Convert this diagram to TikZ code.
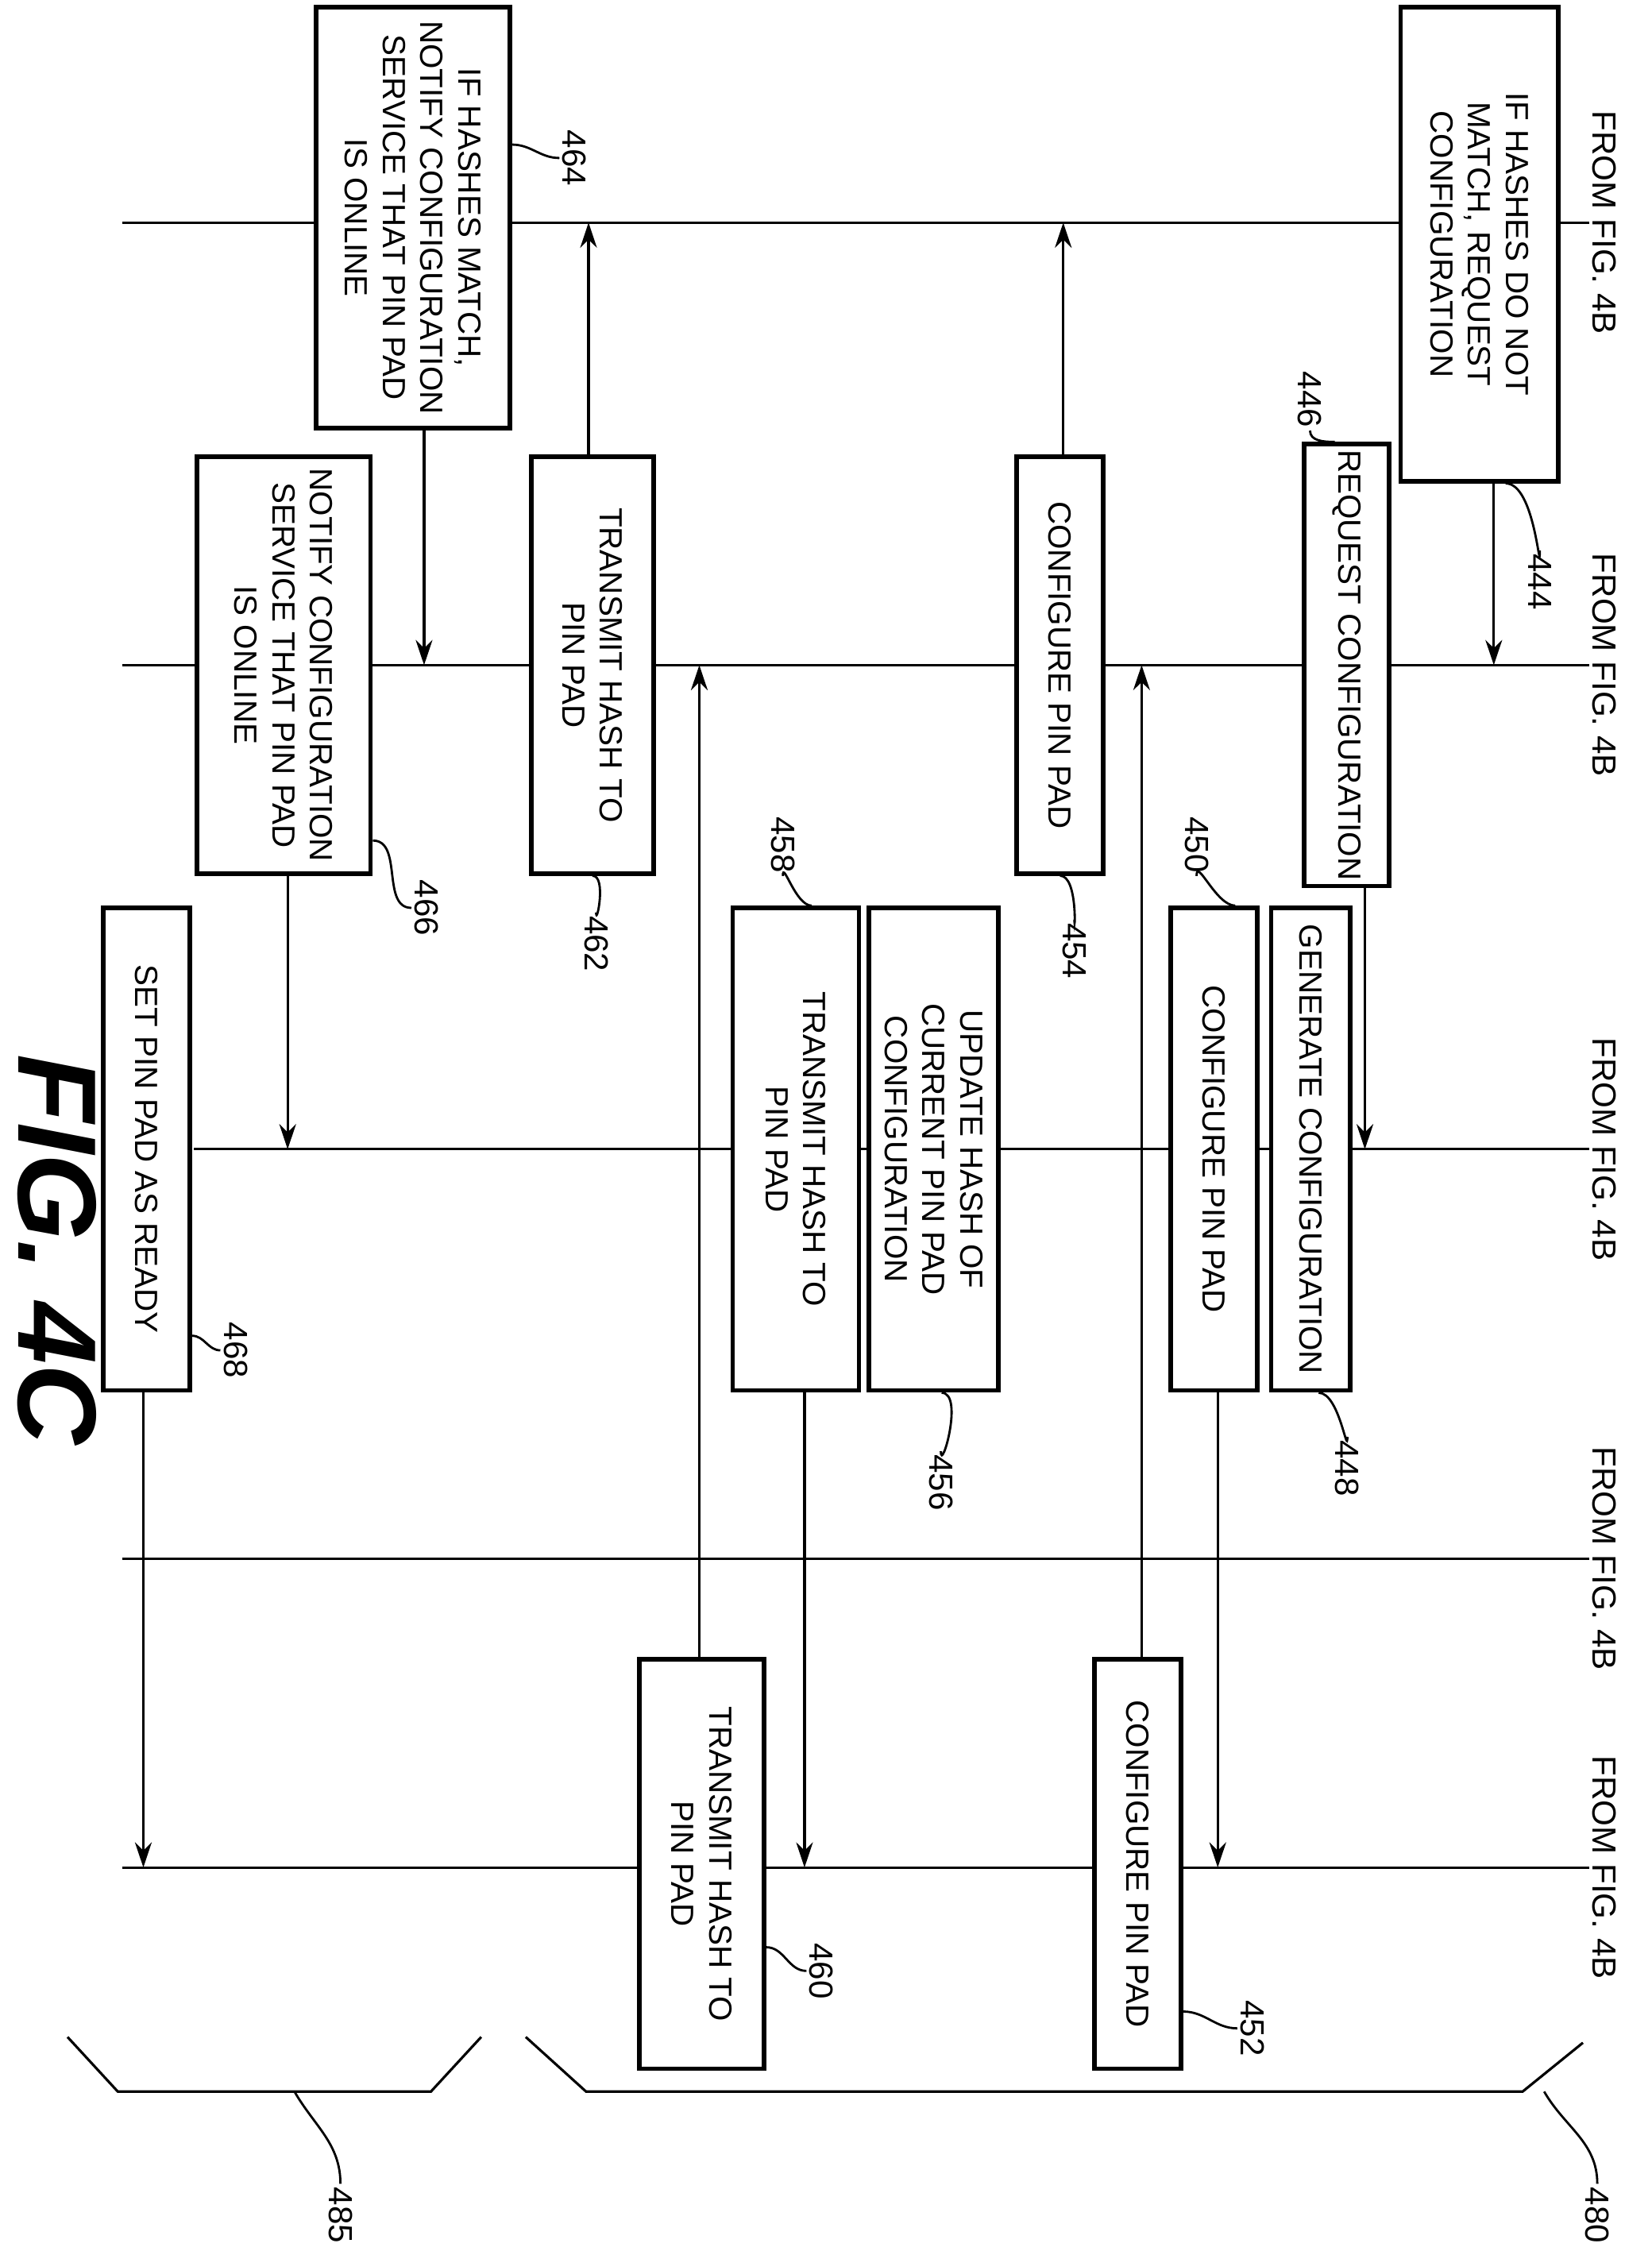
\documentclass[tikz,border=0pt]{standalone}
\usepackage{fontspec}
\setmainfont{Liberation Sans}
\usetikzlibrary{arrows.meta}

\tikzset{
  box/.style={draw, line width=1.6pt, rotate=-90, align=center, inner sep=2pt,
    font=\fontsize{11.5}{13.5}\selectfont},
  life/.style={line width=0.9pt},
  msg/.style={line width=0.9pt, -{Stealth[length=9pt,width=6pt]}},
  from/.style={rotate=-90, font=\fontsize{12}{14}\selectfont, inner sep=1pt},
  refno/.style={rotate=-90, font=\fontsize{12}{14}\selectfont, inner sep=1pt},
  lead/.style={line width=0.8pt}
}

\begin{document}
\begin{tikzpicture}[x=0.0181cm, y=-0.0181cm]
\useasboundingbox (0,0) rectangle (1150,1567);

% lifelines
\coordinate (l1) at (85,155);
\coordinate (l2) at (85,463);
\coordinate (l3) at (135,800);
\coordinate (l4) at (85,1085);
\coordinate (l5) at (85,1300);
\node[from] (f1) at (1117,155) {FROM FIG. 4B};
\node[from] (f2) at (1117,463) {FROM FIG. 4B};
\node[from] (f3) at (1117,800) {FROM FIG. 4B};
\node[from] (f4) at (1117,1085) {FROM FIG. 4B};
\node[from] (f5) at (1117,1300) {FROM FIG. 4B};
\draw[life] (l1) -- (f1.south);
\draw[life] (l2) -- (f2.south);
\draw[life] (l3) -- (f3.south);
\draw[life] (l4) -- (f4.south);
\draw[life] (l5) -- (f5.south);

% boxes
\node[box, fill=white, minimum width=5.97cm, minimum height=1.99cm] (A) at (1030,170)
  {IF HASHES DO NOT\\MATCH, REQUEST\\CONFIGURATION};
\node[box, fill=white, minimum width=5.25cm, minimum height=1.07cm] (B) at (937.5,463)
  {REQUEST CONFIGURATION};
\node[box, fill=white, minimum width=6.08cm, minimum height=1.0cm] (C) at (912.5,800)
  {GENERATE CONFIGURATION};
\node[box, fill=white, minimum width=6.08cm, minimum height=1.09cm] (D) at (845,800)
  {CONFIGURE PIN PAD};
\node[box, fill=white, minimum width=5.25cm, minimum height=1.09cm] (E) at (738,463)
  {CONFIGURE PIN PAD};
\node[box, fill=white, minimum width=6.08cm, minimum height=1.63cm] (F) at (650,800)
  {UPDATE HASH OF\\CURRENT PIN PAD\\CONFIGURATION};
\node[box, fill=white, minimum width=6.08cm, minimum height=1.59cm] (G) at (554,800)
  {TRANSMIT HASH TO\\PIN PAD};
\node[box, fill=white, minimum width=5.25cm, minimum height=1.54cm] (H) at (412.5,463)
  {TRANSMIT HASH TO\\PIN PAD};
\node[box, fill=white, minimum width=5.3cm, minimum height=2.44cm] (I) at (287.5,151.5)
  {IF HASHES MATCH,\\NOTIFY CONFIGURATION\\SERVICE THAT PIN PAD\\IS ONLINE};
\node[box, fill=white, minimum width=5.25cm, minimum height=2.19cm] (J) at (197.5,463)
  {NOTIFY CONFIGURATION\\SERVICE THAT PIN PAD\\IS ONLINE};
\node[box, fill=white, minimum width=6.08cm, minimum height=1.09cm] (K) at (102,800)
  {SET PIN PAD AS READY};
\node[box, fill=white, minimum width=5.16cm, minimum height=1.09cm] (L) at (792,1297.5)
  {CONFIGURE PIN PAD};
\node[box, fill=white, minimum width=5.16cm, minimum height=1.57cm] (M) at (488.5,1297.5)
  {TRANSMIT HASH TO\\PIN PAD};

% messages
\draw[msg] ([xshift=.18cm]A.east) -- ([xshift=.18cm]A.east |- l2);
\draw[msg] ([xshift=.23cm]B.east) -- ([xshift=.23cm]B.east |- l3);
\draw[msg] ([xshift=.05cm]D.east) -- ([xshift=.05cm]D.east |- l5);
\draw[msg] ([xshift=.05cm]L.west) -- ([xshift=.05cm]L.west |- l2);
\draw[msg] ([xshift=.04cm]E.west) -- ([xshift=.04cm]E.west |- l1);
\draw[msg] ([xshift=.11cm]G.east) -- ([xshift=.11cm]G.east |- l5);
\draw[msg] ([xshift=-.03cm]M.west) -- ([xshift=-.03cm]M.west |- l2);
\draw[msg] ([xshift=-.05cm]H.west) -- ([xshift=-.05cm]H.west |- l1);
\draw[msg] ([xshift=.14cm]I.east) -- ([xshift=.14cm]I.east |- l2);
\draw[msg] ([xshift=.05cm]J.east) -- ([xshift=.05cm]J.east |- l3);
\draw[msg] ([xshift=-.04cm]K.east) -- ([xshift=-.04cm]K.east |- l5);

% braces
\coordinate (b480) at (1075,1456);
\coordinate (b485) at (205,1456);
\draw[life] (366,1418) -- (408,1456) -- (1060,1456) -- (1102,1422);
\draw[life] (47,1418) -- (82,1456) -- (300,1456) -- (335,1418);

% reference numerals
\node[refno] (n444) at (1072,405) {444};
\node[refno] (n446) at (912,278) {446};
\node[refno] (n448) at (938,1022) {448};
\node[refno] (n450) at (833,588) {450};
\node[refno] (n452) at (872,1412) {452};
\node[refno] (n454) at (748,662) {454};
\node[refno] (n456) at (655,1032) {456};
\node[refno] (n458) at (545,588) {458};
\node[refno] (n460) at (572,1372) {460};
\node[refno] (n462) at (415,657) {462};
\node[refno] (n464) at (400,110) {464};
\node[refno] (n466) at (297,632) {466};
\node[refno] (n468) at (164,940) {468};
\node[refno] (n480) at (1112,1542) {480};
\node[refno] (n485) at (237,1542) {485};
\draw[lead] (n444.west) to[out=-90,in=0] ([xshift=.33cm]A.east);
\draw[lead] (n446.east) to[out=-90,in=180] ([xshift=-.15cm]B.west);
\draw[lead] (n448.west) to[out=-90,in=0] ([xshift=.1cm]C.east);
\draw[lead] (n450.east) to[out=90,in=180] ([xshift=.27cm]D.west);
\draw[lead] (n452.south) to[out=180,in=0] ([yshift=-1.86cm]L.north);
\draw[lead] (n454.west) to[out=-90,in=0] (E.east);
\draw[lead] (n456.west) to[out=-90,in=0] ([xshift=.1cm]F.east);
\draw[lead] (n458.east) to[out=90,in=180] ([xshift=.2cm]G.west);
\draw[lead] (n460.south) to[out=180,in=0] ([yshift=-1.05cm]M.north);
\draw[lead] (n462.west) to[out=-90,in=0] (H.east);
\draw[lead] (n464.south) to[out=180,in=0] ([yshift=.92cm]I.north);
\draw[lead] (n466.south) to[out=180,in=0] ([yshift=-2.21cm]J.north);
\draw[lead] (n468.south) to[out=180,in=0] ([yshift=-2.35cm]K.north);
\draw[lead] (b480) to[out=-60,in=90] (n480.west);
\draw[lead] (b485) to[out=-60,in=90] (n485.west);

% figure label
\node[rotate=-90, font=\fontsize{40}{44}\selectfont\bfseries\itshape] (fig) at (40,870) {FIG. 4C};
\end{tikzpicture}
\end{document}
